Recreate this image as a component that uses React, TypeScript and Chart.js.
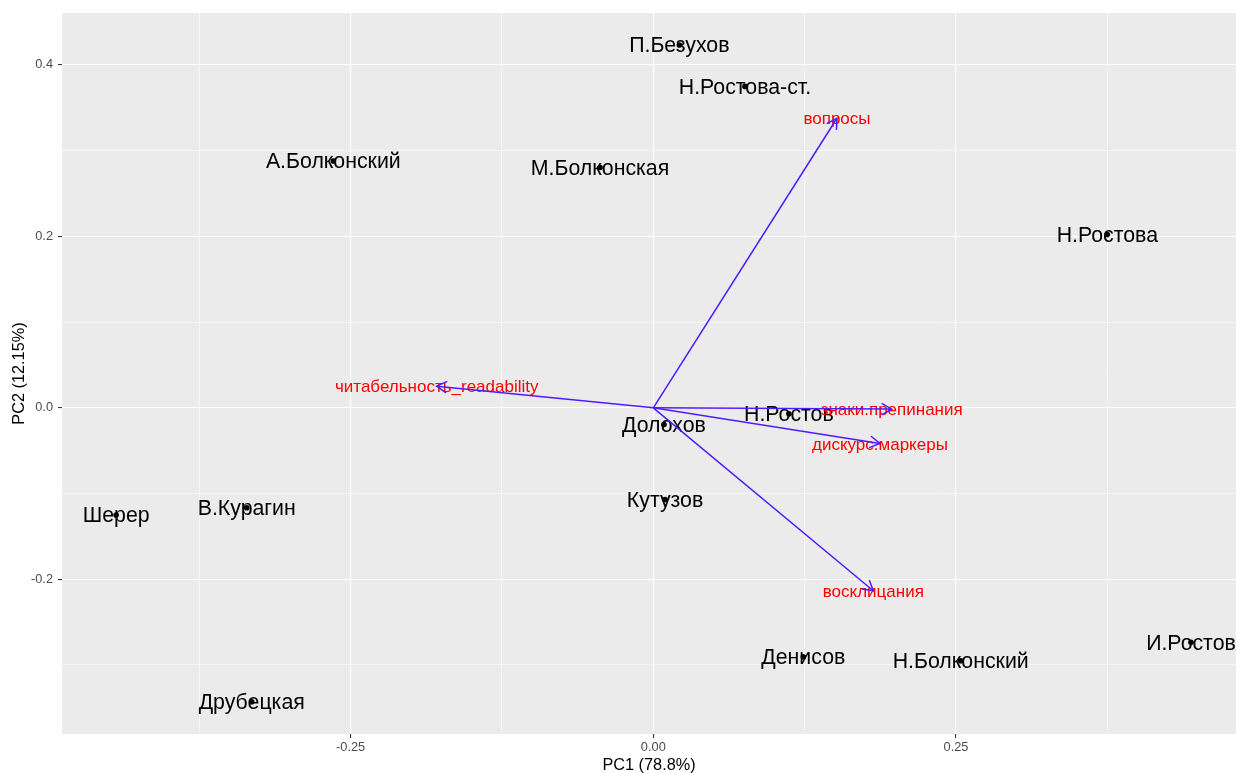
import React, { useEffect, useRef } from "react";
import { Chart, registerables } from "chart.js";

Chart.register(...registerables);

// ---- Data ----
const characters = [
  "П.Безухов",
  "Н.Ростова-ст.",
  "М.Болконская",
  "А.Болконский",
  "Н.Ростова",
  "Долохов",
  "Н.Ростов",
  "Кутузов",
  "Шерер",
  "В.Курагин",
  "Друбецкая",
  "Денисов",
  "Н.Болконский",
  "И.Ростов",
];
const pc1Scores = [0.0215, 0.0757, -0.044, -0.2643, 0.375, 0.0088, 0.112, 0.0097, -0.4437, -0.3358, -0.3317, 0.1239, 0.2539, 0.4441];
const pc2Scores = [0.4233, 0.375, 0.2803, 0.288, 0.2022, -0.0194, -0.007, -0.107, -0.125, -0.1166, -0.3429, -0.2904, -0.295, -0.2736];

const variables = ["вопросы", "читабельность_readability", "знаки.препинания", "дискурс.маркеры", "восклицания"];
const loadPC1 = [0.1517, -0.1789, 0.1969, 0.1872, 0.1817];
const loadPC2 = [0.3378, 0.0253, -0.0015, -0.0415, -0.2134];

const xMajorTicks = [-0.25, 0, 0.25];
const xTickLabels = ["-0.25", "0.00", "0.25"];
const xMinorTicks = [-0.375, -0.125, 0.125, 0.375];
const yMajorTicks = [-0.2, 0, 0.2, 0.4];
const yTickLabels = ["-0.2", "0.0", "0.2", "0.4"];
const yMinorTicks = [-0.3, -0.1, 0.1, 0.3];

const xTitle = "PC1 (78.8%)";
const yTitle = "PC2 (12.15%)";

// ---- Style ----
const FONT = "'Liberation Sans', Arial, Helvetica, sans-serif";
const ARROW_COLOR = "#4F1CFF";
const VAR_COLOR = "#FF0000";
const PANEL_BG = "#EBEBEB";

const majorIndex = (list: number[], v: number) => list.findIndex((m) => Math.abs(m - v) < 1e-9);

const App = () => {
  const canvasRef = useRef<HTMLCanvasElement | null>(null);

  useEffect(() => {
    const canvas = canvasRef.current;
    if (!canvas) return;

    const bgPlugin = {
      id: "panelBg",
      beforeDraw(chart: any) {
        const { ctx, chartArea } = chart;
        ctx.save();
        ctx.fillStyle = PANEL_BG;
        ctx.fillRect(chartArea.left, chartArea.top, chartArea.right - chartArea.left, chartArea.bottom - chartArea.top);
        ctx.restore();
      },
    };

    const labelPlugin = {
      id: "biplotLabels",
      beforeDatasetsDraw(chart: any) {
        const { ctx, scales } = chart;
        const xs = scales.x;
        const ys = scales.y;
        ctx.save();
        ctx.textAlign = "center";
        ctx.textBaseline = "middle";
        ctx.fillStyle = "#000000";
        ctx.font = `21.3px ${FONT}`;
        characters.forEach((name, i) => {
          ctx.fillText(name, xs.getPixelForValue(pc1Scores[i]), ys.getPixelForValue(pc2Scores[i]) + 1.5);
        });
        ctx.fillStyle = VAR_COLOR;
        ctx.font = `17px ${FONT}`;
        variables.forEach((name, i) => {
          ctx.fillText(name, xs.getPixelForValue(loadPC1[i]), ys.getPixelForValue(loadPC2[i]) + 1.5);
        });
        ctx.restore();
      },
    };

    const arrowHeadPlugin = {
      id: "arrowHeads",
      afterDatasetsDraw(chart: any) {
        const { ctx, scales } = chart;
        const xs = scales.x;
        const ys = scales.y;
        const ox = xs.getPixelForValue(0);
        const oy = ys.getPixelForValue(0);
        const len = 11;
        const ang = Math.PI / 6;
        ctx.save();
        ctx.strokeStyle = ARROW_COLOR;
        ctx.lineWidth = 1.5;
        ctx.lineCap = "round";
        variables.forEach((_, i) => {
          const tx = xs.getPixelForValue(loadPC1[i]);
          const ty = ys.getPixelForValue(loadPC2[i]);
          const theta = Math.atan2(ty - oy, tx - ox);
          ctx.beginPath();
          ctx.moveTo(tx - len * Math.cos(theta - ang), ty - len * Math.sin(theta - ang));
          ctx.lineTo(tx, ty);
          ctx.lineTo(tx - len * Math.cos(theta + ang), ty - len * Math.sin(theta + ang));
          ctx.stroke();
        });
        ctx.restore();
      },
    };

    const arrowDatasets = variables.map((name, i) => ({
      type: "line" as const,
      label: name,
      data: [
        { x: 0, y: 0 },
        { x: loadPC1[i], y: loadPC2[i] },
      ],
      borderColor: ARROW_COLOR,
      borderWidth: 1.5,
      pointRadius: 0,
      fill: false,
      tension: 0,
      order: 0,
    }));

    const pointDataset = {
      type: "scatter" as const,
      label: "characters",
      data: characters.map((_, i) => ({ x: pc1Scores[i], y: pc2Scores[i] })),
      backgroundColor: "#000000",
      borderWidth: 0,
      pointRadius: 2.8,
      order: 1,
    };

    const chart = new Chart(canvas, {
      type: "scatter",
      data: { datasets: [pointDataset as any, ...(arrowDatasets as any)] },
      plugins: [bgPlugin, labelPlugin, arrowHeadPlugin],
      options: {
        animation: false,
        responsive: false,
        devicePixelRatio: 1,
        layout: { autoPadding: false, padding: { top: 13, right: 0, bottom: 0, left: 0 } },
        plugins: { legend: { display: false }, tooltip: { enabled: false } },
        scales: {
          x: {
            type: "linear",
            min: -0.4884,
            max: 0.4813,
            afterFit(scale: any) {
              scale.height = 39;
              scale.paddingLeft = 0;
              scale.paddingRight = 0;
            },
            afterBuildTicks(scale: any) {
              scale.ticks = [...xMajorTicks, ...xMinorTicks].sort((a, b) => a - b).map((v) => ({ value: v }));
            },
            ticks: {
              autoSkip: false,
              maxRotation: 0,
              padding: 1.5,
              color: "#4D4D4D",
              font: { family: FONT, size: 12.8 },
              callback: (v: any) => {
                const k = majorIndex(xMajorTicks, Number(v));
                return k >= 0 ? xTickLabels[k] : "";
              },
            },
            grid: {
              color: "#FFFFFF",
              lineWidth: (c: any) => (majorIndex(xMajorTicks, c.tick?.value) >= 0 ? 1.1 : 0.55),
              tickColor: (c: any) => (majorIndex(xMajorTicks, c.tick?.value) >= 0 ? "#333333" : "rgba(0,0,0,0)"),
              tickLength: 4,
              tickWidth: 1.1,
            } as any,
            border: { display: false },
            title: {
              display: true,
              text: xTitle,
              color: "#000000",
              font: { family: FONT, size: 16.3 },
              padding: { top: 0, bottom: -2.5 },
            },
          },
          y: {
            type: "linear",
            min: -0.3805,
            max: 0.4606,
            afterFit(scale: any) {
              scale.width = 62;
              scale.paddingTop = 0;
              scale.paddingBottom = 0;
            },
            afterBuildTicks(scale: any) {
              scale.ticks = [...yMajorTicks, ...yMinorTicks].sort((a, b) => a - b).map((v) => ({ value: v }));
            },
            ticks: {
              autoSkip: false,
              padding: 5,
              color: "#4D4D4D",
              font: { family: FONT, size: 12.8 },
              callback: (v: any) => {
                const k = majorIndex(yMajorTicks, Number(v));
                return k >= 0 ? yTickLabels[k] : "";
              },
            },
            grid: {
              color: "#FFFFFF",
              lineWidth: (c: any) => (majorIndex(yMajorTicks, c.tick?.value) >= 0 ? 1.1 : 0.55),
              tickColor: (c: any) => (majorIndex(yMajorTicks, c.tick?.value) >= 0 ? "#333333" : "rgba(0,0,0,0)"),
              tickLength: 4,
              tickWidth: 1.1,
            } as any,
            border: { display: false },
            title: {
              display: true,
              text: yTitle,
              color: "#000000",
              font: { family: FONT, size: 16.3 },
              padding: { top: 9.5, bottom: 0 },
            },
          },
        },
      } as any,
    });

    return () => chart.destroy();
  }, []);

  return (
    <div style={{ position: "fixed", left: 0, top: 0, width: 1236, height: 773, background: "#FFFFFF" }}>
      <canvas ref={canvasRef} width={1236} height={773} style={{ display: "block" }} />
    </div>
  );
};

export default App;
